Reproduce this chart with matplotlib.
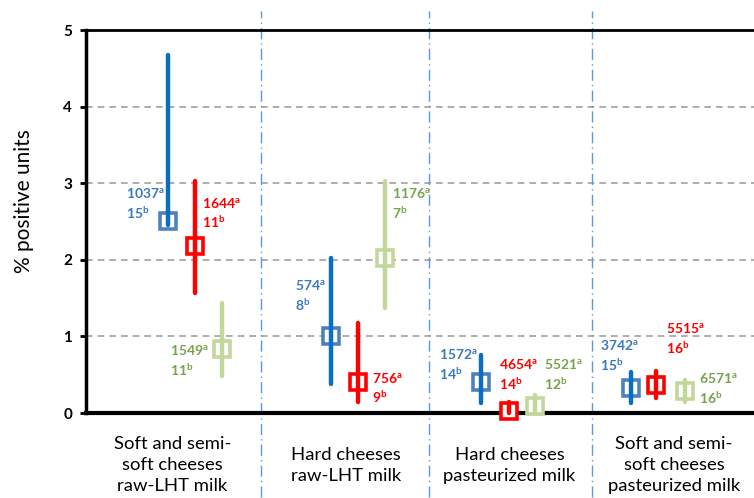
import matplotlib
matplotlib.use("Agg")
import matplotlib.pyplot as plt
import matplotlib.transforms as mtransforms

plt.rcParams['font.family'] = ['Lato', 'DejaVu Sans']
plt.rcParams['mathtext.fontset'] = 'custom'
plt.rcParams['mathtext.rm'] = 'Lato'
plt.rcParams['mathtext.bf'] = 'Lato:bold'

categories = ["Soft and semi-\nsoft cheeses\nraw-LHT milk",
              "Hard cheeses\nraw-LHT milk",
              "Hard cheeses\npasteurized milk",
              "Soft and semi-\nsoft cheeses\npasteurized milk"]
cat_x = [0.515, 1.551, 2.527, 3.509]
separators = [1.042, 2.048, 3.018]

# series: estimate, lower, upper, x position per category
blue_x = [0.489, 1.461, 2.355, 3.253]
blue_est = [2.50, 1.00, 0.40, 0.32]
blue_lo = [2.45, 0.375, 0.127, 0.135]
blue_hi = [4.67, 2.03, 0.757, 0.53]
blue_n = [1037, 574, 1572, 3742]
blue_k = [15, 8, 14, 15]

red_x = [0.648, 1.625, 2.523, 3.401]
red_est = [2.18, 0.40, 0.03, 0.36]
red_lo = [1.57, 0.14, 0.0, 0.20]
red_hi = [3.03, 1.17, 0.15, 0.55]
red_n = [1644, 756, 4654, 5515]
red_k = [11, 9, 14, 16]

green_x = [0.813, 1.786, 2.678, 3.577]
green_est = [0.835, 2.03, 0.09, 0.29]
green_lo = [0.48, 1.37, 0.0, 0.15]
green_hi = [1.44, 3.03, 0.23, 0.43]
green_n = [1549, 1176, 5521, 6571]
green_k = [11, 7, 12, 16]

# label anchor positions (left x, vertical middle y)
blue_lab = [(0.239, 2.73), (1.246, 1.537), (2.104, 0.633), (3.068, 0.751)]
red_lab = [(0.695, 2.61), (1.705, 0.326), (2.463, 0.507), (3.463, 0.969)]
green_lab = [(0.499, 0.685), (1.825, 2.73), (2.735, 0.507), (3.66, 0.322)]

series = [
    (blue_x, blue_est, blue_lo, blue_hi, blue_n, blue_k, blue_lab, '#0A6EC1', '#4F81BD', '#3A78C0'),
    (red_x, red_est, red_lo, red_hi, red_n, red_k, red_lab, '#FF0000', '#FF0000', '#FF0000'),
    (green_x, green_est, green_lo, green_hi, green_n, green_k, green_lab, '#C4D79B', '#C4D79B', '#77A34B'),
]

fig = plt.figure(figsize=(7.54, 4.98), dpi=100)
ax = fig.add_axes([86/754, 85/498, 1 - 86/754 + 0.003, 383/498])
ax.set_xlim(0, 4.0)
ax.set_ylim(0, 5)

for xs, est, lo, hi, ns, ks, labs, lc, mc, tc in series:
    for i in range(4):
        ax.plot([xs[i], xs[i]], [lo[i], hi[i]], color=lc, lw=3.2,
                solid_capstyle='round', zorder=4, clip_on=False)
        ax.plot([xs[i]], [est[i]], marker='s', ms=11, mfc='white', mec=mc,
                mew=2.6, zorder=3, clip_on=False)
        ax.text(labs[i][0], labs[i][1],
                r"$\mathbf{%d^{a}}$" % ns[i] + "\n" + r"$\mathbf{%d^{b}}$" % ks[i],
                color=tc, fontsize=10, ha='left', va='center', linespacing=1.35,
                zorder=5)

for yv in [1, 2, 3, 4]:
    ax.axhline(yv, color='#A0A0A0', lw=1.2, ls=(0, (4, 3)), zorder=1)

trans = mtransforms.blended_transform_factory(ax.transData, ax.transAxes)
for sx in separators:
    ax.plot([sx, sx], [-0.22, 1.05], transform=trans, color='#5B9BD5',
            lw=1.0, ls=(0, (8, 3, 1, 3)), clip_on=False, zorder=1)

for cx, lab in zip(cat_x, categories):
    ax.text(cx, -0.136, lab, transform=trans, ha='center', va='center',
            fontsize=13.3, linespacing=1.38)

ax.set_xticks([])
ax.set_yticks([0, 1, 2, 3, 4, 5])
ax.set_yticklabels(['0', '1', '2', '3', '4', '5'], fontweight='bold', fontsize=11)
ax.tick_params(axis='y', length=4, width=2, direction='out', pad=6)
for s in ['left', 'bottom', 'top']:
    ax.spines[s].set_color('black')
ax.spines['left'].set_linewidth(2.5)
ax.spines['bottom'].set_linewidth(3)
ax.spines['top'].set_linewidth(2)
ax.spines['right'].set_visible(False)
fig.text(24/754, (498 - 201)/498, '% positive units', rotation=90,
         fontsize=15, ha='center', va='center')

fig.savefig('out.png', dpi=100)
